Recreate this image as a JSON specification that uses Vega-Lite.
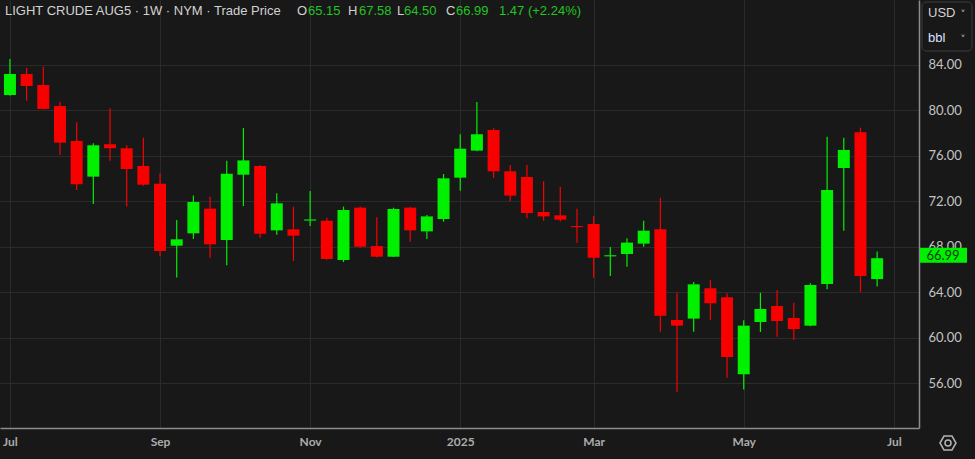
{
  "$schema": "https://vega.github.io/schema/vega-lite/v6.json",
  "width": 919,
  "height": 428,
  "autosize": {"type": "none"},
  "padding": {"left": 0, "top": 0, "right": 56, "bottom": 31},
  "background": "#181818",
  "config": {"view": {"stroke": null}, "font": "Lato"},
  "datasets": {
    "candles": [
      {"date": "2024-07-01", "open": 81.36, "high": 84.53, "low": 81.30, "close": 83.21},
      {"date": "2024-07-08", "open": 83.21, "high": 83.76, "low": 80.86, "close": 82.15},
      {"date": "2024-07-15", "open": 82.24, "high": 83.85, "low": 80.10, "close": 80.13},
      {"date": "2024-07-22", "open": 80.39, "high": 80.77, "low": 76.08, "close": 77.16},
      {"date": "2024-07-29", "open": 77.31, "high": 78.95, "low": 73.00, "close": 73.50},
      {"date": "2024-08-05", "open": 74.17, "high": 77.10, "low": 71.76, "close": 76.93},
      {"date": "2024-08-12", "open": 77.02, "high": 80.19, "low": 75.57, "close": 76.67},
      {"date": "2024-08-19", "open": 76.67, "high": 76.93, "low": 71.53, "close": 74.84},
      {"date": "2024-08-26", "open": 75.11, "high": 77.60, "low": 73.37, "close": 73.46},
      {"date": "2024-09-02", "open": 73.55, "high": 74.46, "low": 67.18, "close": 67.62},
      {"date": "2024-09-09", "open": 68.09, "high": 70.35, "low": 65.30, "close": 68.65},
      {"date": "2024-09-16", "open": 69.18, "high": 72.50, "low": 68.68, "close": 71.94},
      {"date": "2024-09-23", "open": 71.35, "high": 72.40, "low": 67.03, "close": 68.21},
      {"date": "2024-09-30", "open": 68.59, "high": 75.57, "low": 66.36, "close": 74.43},
      {"date": "2024-10-07", "open": 74.34, "high": 78.45, "low": 71.58, "close": 75.60},
      {"date": "2024-10-14", "open": 75.11, "high": 75.20, "low": 68.80, "close": 69.15},
      {"date": "2024-10-21", "open": 69.44, "high": 72.70, "low": 69.06, "close": 71.82},
      {"date": "2024-10-28", "open": 69.53, "high": 71.53, "low": 66.74, "close": 68.97},
      {"date": "2024-11-04", "open": 70.30, "high": 72.90, "low": 69.82, "close": 70.40},
      {"date": "2024-11-11", "open": 70.29, "high": 70.56, "low": 66.86, "close": 66.92},
      {"date": "2024-11-18", "open": 66.83, "high": 71.53, "low": 66.65, "close": 71.23},
      {"date": "2024-11-25", "open": 71.44, "high": 71.53, "low": 67.91, "close": 68.00},
      {"date": "2024-12-02", "open": 68.06, "high": 70.59, "low": 67.06, "close": 67.12},
      {"date": "2024-12-09", "open": 67.12, "high": 71.44, "low": 67.10, "close": 71.32},
      {"date": "2024-12-16", "open": 71.44, "high": 71.50, "low": 68.44, "close": 69.44},
      {"date": "2024-12-23", "open": 69.35, "high": 70.79, "low": 68.68, "close": 70.67},
      {"date": "2024-12-30", "open": 70.44, "high": 74.40, "low": 70.20, "close": 74.02},
      {"date": "2025-01-06", "open": 74.08, "high": 77.90, "low": 72.93, "close": 76.63},
      {"date": "2025-01-13", "open": 76.46, "high": 80.74, "low": 76.40, "close": 77.90},
      {"date": "2025-01-20", "open": 78.28, "high": 78.43, "low": 74.05, "close": 74.64},
      {"date": "2025-01-27", "open": 74.64, "high": 75.20, "low": 72.03, "close": 72.50},
      {"date": "2025-02-03", "open": 74.14, "high": 75.20, "low": 70.50, "close": 70.97},
      {"date": "2025-02-10", "open": 71.06, "high": 73.76, "low": 70.29, "close": 70.67},
      {"date": "2025-02-17", "open": 70.76, "high": 73.28, "low": 70.23, "close": 70.38},
      {"date": "2025-02-24", "open": 69.82, "high": 71.35, "low": 68.35, "close": 69.72},
      {"date": "2025-03-03", "open": 70.00, "high": 70.70, "low": 65.27, "close": 67.03},
      {"date": "2025-03-10", "open": 67.15, "high": 67.97, "low": 65.42, "close": 67.25},
      {"date": "2025-03-17", "open": 67.36, "high": 68.74, "low": 66.24, "close": 68.36},
      {"date": "2025-03-24", "open": 68.27, "high": 70.29, "low": 68.00, "close": 69.41},
      {"date": "2025-03-31", "open": 69.53, "high": 72.32, "low": 60.52, "close": 61.93},
      {"date": "2025-04-07", "open": 61.55, "high": 63.95, "low": 55.21, "close": 61.05},
      {"date": "2025-04-14", "open": 61.67, "high": 64.89, "low": 60.52, "close": 64.69},
      {"date": "2025-04-21", "open": 64.34, "high": 65.07, "low": 61.55, "close": 63.02},
      {"date": "2025-04-28", "open": 63.55, "high": 63.90, "low": 56.47, "close": 58.29},
      {"date": "2025-05-05", "open": 56.77, "high": 61.52, "low": 55.44, "close": 61.05},
      {"date": "2025-05-12", "open": 61.37, "high": 63.95, "low": 60.49, "close": 62.52},
      {"date": "2025-05-19", "open": 62.78, "high": 64.19, "low": 60.08, "close": 61.46},
      {"date": "2025-05-26", "open": 61.72, "high": 63.07, "low": 59.79, "close": 60.75},
      {"date": "2025-06-02", "open": 61.05, "high": 64.78, "low": 61.00, "close": 64.63},
      {"date": "2025-06-09", "open": 64.72, "high": 77.69, "low": 64.25, "close": 73.00},
      {"date": "2025-06-16", "open": 74.93, "high": 77.60, "low": 69.41, "close": 76.52},
      {"date": "2025-06-23", "open": 78.07, "high": 78.48, "low": 64.01, "close": 65.42},
      {"date": "2025-06-30", "open": 65.15, "high": 67.58, "low": 64.50, "close": 66.99}
    ]
  },
  "layer": [
    {
      "data": {"name": "candles"},
      "encoding": {
        "x": {
          "field": "date",
          "type": "temporal",
          "scale": {"type": "utc", "domain": [1719612640570, 1752578208000]},
          "axis": {
            "title": null,
            "values": [1719792000000, 1725235200000, 1730678400000, 1736121600000, 1740960000000, 1746403200000, 1751846400000],
            "labelExpr": "utcFormat(datum.value, '%m') == '01' ? utcFormat(datum.value, '%Y') : utcFormat(datum.value, '%b')",
            "grid": true,
            "gridColor": "#2b2b2b",
            "gridWidth": 1,
            "domainColor": "#8c8c8c",
            "domainWidth": 1.5,
            "ticks": false,
            "labelColor": "#acacac",
            "labelFontSize": 12,
            "labelFontWeight": "bold",
            "labelFont": "Lato",
            "labelPadding": 8,
            "labelFlush": false,
            "labelOverlap": false,
            "labelBound": false
          }
        },
        "color": {
          "condition": {"test": "datum.close >= datum.open", "value": "#00f000"},
          "value": "#f80000"
        }
      },
      "layer": [
        {
          "mark": {"type": "rule", "strokeWidth": 1.2},
          "encoding": {
            "y": {
              "field": "low",
              "type": "quantitative",
              "scale": {"domain": [52.04, 89.72], "nice": false, "zero": false},
              "axis": {
                "title": null,
                "orient": "right",
                "values": [56, 60, 64, 68, 72, 76, 80, 84],
                "format": ".2f",
                "grid": true,
                "gridColor": "#2b2b2b",
                "domainColor": "#8c8c8c",
                "domainWidth": 1.5,
                "ticks": false,
                "labelColor": "#c4c4c4",
                "labelFontSize": 13,
                "labelFont": "Lato",
                "labelPadding": 9,
                "labelAlign": "left"
              }
            },
            "y2": {"field": "high"}
          }
        },
        {
          "mark": {"type": "bar", "size": 12},
          "encoding": {
            "y": {"field": "open", "type": "quantitative"},
            "y2": {"field": "close"}
          }
        }
      ]
    },
    {
      "data": {"values": [{"last": 66.99}]},
      "layer": [
        {
          "mark": {"type": "rect", "color": "#00f000", "x": 920, "x2": 967},
          "encoding": {
            "y": {"datum": 67.91, "type": "quantitative"},
            "y2": {"datum": 66.59}
          }
        },
        {
          "mark": {"type": "text", "color": "#0a3a0a", "fontSize": 13, "font": "Lato", "x": 943, "align": "center", "baseline": "middle"},
          "encoding": {
            "y": {"datum": 67.22, "type": "quantitative"},
            "text": {"field": "last", "type": "quantitative", "format": ".2f"}
          }
        }
      ]
    },
    {
      "data": {"values": [{}]},
      "layer": [
        {"mark": {"type": "rule", "x": 919, "x2": 975, "y": 428, "color": "#8c8c8c", "strokeWidth": 1.5}, "encoding": {}},
        {"mark": {"type": "rule", "x": 919, "y": 428, "y2": 459, "color": "#8c8c8c", "strokeWidth": 1.5}, "encoding": {}},
        {"mark": {"type": "text", "text": "LIGHT CRUDE AUG5 · 1W · NYM · Trade Price", "x": 5, "y": 11, "align": "left", "baseline": "middle", "font": "Liberation Sans", "fontSize": 13, "color": "#d2d2d2"}},
        {"mark": {"type": "text", "text": "O", "x": 297, "y": 11, "align": "left", "baseline": "middle", "font": "Liberation Sans", "fontSize": 13, "color": "#d2d2d2"}},
        {"mark": {"type": "text", "text": "65.15", "x": 308, "y": 11, "align": "left", "baseline": "middle", "font": "Liberation Sans", "fontSize": 13, "color": "#22c522"}},
        {"mark": {"type": "text", "text": "H", "x": 348, "y": 11, "align": "left", "baseline": "middle", "font": "Liberation Sans", "fontSize": 13, "color": "#d2d2d2"}},
        {"mark": {"type": "text", "text": "67.58", "x": 359, "y": 11, "align": "left", "baseline": "middle", "font": "Liberation Sans", "fontSize": 13, "color": "#22c522"}},
        {"mark": {"type": "text", "text": "L", "x": 397, "y": 11, "align": "left", "baseline": "middle", "font": "Liberation Sans", "fontSize": 13, "color": "#d2d2d2"}},
        {"mark": {"type": "text", "text": "64.50", "x": 404, "y": 11, "align": "left", "baseline": "middle", "font": "Liberation Sans", "fontSize": 13, "color": "#22c522"}},
        {"mark": {"type": "text", "text": "C", "x": 446, "y": 11, "align": "left", "baseline": "middle", "font": "Liberation Sans", "fontSize": 13, "color": "#d2d2d2"}},
        {"mark": {"type": "text", "text": "66.99", "x": 456, "y": 11, "align": "left", "baseline": "middle", "font": "Liberation Sans", "fontSize": 13, "color": "#22c522"}},
        {"mark": {"type": "text", "text": "1.47 (+2.24%)", "x": 499, "y": 11, "align": "left", "baseline": "middle", "font": "Liberation Sans", "fontSize": 13, "color": "#22c522"}},
        {"mark": {"type": "rect", "x": 922, "x2": 972, "y": 2, "y2": 51, "fill": null, "stroke": "#3c3c3c", "strokeWidth": 1, "cornerRadius": 4}},
        {"mark": {"type": "text", "text": "USD", "x": 928, "y": 13, "align": "left", "baseline": "middle", "font": "Liberation Sans", "fontSize": 13, "color": "#d2d2d2"}},
        {"mark": {"type": "text", "text": "˅", "x": 963, "y": 15, "align": "center", "baseline": "middle", "font": "DejaVu Sans", "fontSize": 10, "color": "#bcbcbc"}},
        {"mark": {"type": "text", "text": "bbl", "x": 928, "y": 38, "align": "left", "baseline": "middle", "font": "Liberation Sans", "fontSize": 13, "color": "#dde2ff"}},
        {"mark": {"type": "text", "text": "˅", "x": 963, "y": 40, "align": "center", "baseline": "middle", "font": "DejaVu Sans", "fontSize": 10, "color": "#bcbcbc"}},
        {"mark": {"type": "point", "shape": "M-1,0L-0.5,-0.866L0.5,-0.866L1,0L0.5,0.866L-0.5,0.866Z", "x": 948, "y": 443, "size": 256, "filled": false, "stroke": "#b4b4b4", "strokeWidth": 1.5, "opacity": 1}},
        {"mark": {"type": "point", "shape": "circle", "x": 948, "y": 443, "size": 36, "filled": false, "stroke": "#b4b4b4", "strokeWidth": 1.5, "opacity": 1}}
      ]
    }
  ]
}
